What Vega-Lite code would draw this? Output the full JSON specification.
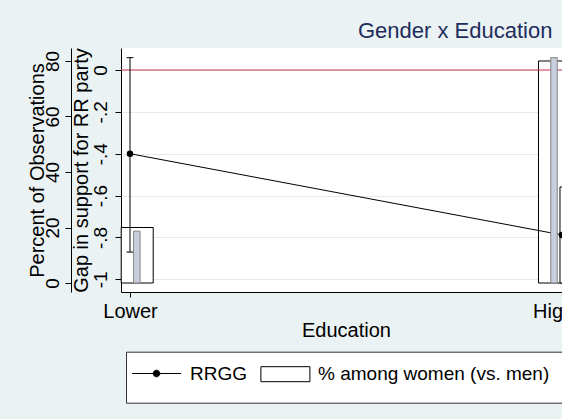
{
  "$schema": "https://vega.github.io/schema/vega-lite/v6.json",
  "width": 441,
  "height": 244,
  "autosize": {"type": "none"},
  "padding": {"left": 121, "top": 48, "right": 0, "bottom": 127},
  "background": "#eaf2f3",
  "config": {
    "view": {"fill": "white", "stroke": null},
    "font": "Liberation Sans",
    "axis": {"domainColor": "black", "tickColor": "black", "labelColor": "black", "titleColor": "black", "labelFont": "Liberation Sans", "titleFont": "Liberation Sans", "titleFontWeight": "normal", "grid": false, "domainWidth": 1, "tickWidth": 1}
  },
  "title": {"text": "Gender x Education", "anchor": "start", "frame": "group", "dx": 237, "offset": -12, "fontSize": 22, "fontWeight": "normal", "color": "#1e2d5c", "font": "Liberation Sans", "baseline": "alphabetic"},
  "datasets": {
    "bars": [
      {"series": "% among women (vs. men)", "education": "Lower", "xpos": 0.0167, "pct": 20},
      {"series": "% among women (vs. men)", "education": "Higher", "xpos": 0.9826, "pct": 80}
    ],
    "inner": [
      {"education": "Lower", "xpos": 0.0158, "pct": 18.7},
      {"education": "Higher", "xpos": 0.9815, "pct": 81.2}
    ],
    "extra": [
      {"series": "% among women (vs. men)", "education": "Higher (next)", "xpos": 1.0324, "pct": 34.6}
    ],
    "gap": [
      {"series": "RRGG", "education": "Lower", "xpos": 0, "gap": -0.4, "lo": -0.87, "hi": 0.059},
      {"series": "RRGG", "education": "Higher", "xpos": 1, "gap": -0.788}
    ],
    "ref": [{"gap": 0}]
  },
  "layer": [
    {
      "data": {"name": "bars"},
      "mark": {"type": "bar", "fill": "white", "stroke": "black", "width": 32, "strokeWidth": 1},
      "encoding": {
        "x": {"field": "xpos", "type": "quantitative", "scale": {"domain": [-0.02083, 1], "nice": false, "zero": false, "padding": 0},
          "axis": {"values": [0, 1], "labelExpr": "datum.value == 0 ? 'Lower' : 'Higher'", "labelFlush": false, "labelOverlap": false, "labelFontSize": 20, "labelPadding": 4, "tickSize": 5, "title": "Education", "titleFontSize": 20, "titlePadding": -1, "titleX": 225, "grid": false}},
        "y": {"field": "pct", "type": "quantitative", "scale": {"domain": [-3.24, 84.68], "nice": false, "zero": false, "padding": 0}, "axis": null},
        "y2": {"datum": 0}
      }
    },
    {
      "data": {"name": "ref"},
      "mark": {"type": "rule", "color": "#c9304f", "strokeWidth": 1.2},
      "encoding": {
        "y": {"field": "gap", "type": "quantitative", "scale": {"domain": [-1.0607, 0.105], "nice": false, "zero": false, "padding": 0},
          "axis": {"orient": "left", "values": [-1, -0.8, -0.6, -0.4, -0.2, 0], "labelExpr": "datum.value == 0 ? '0' : datum.value <= -0.99 ? '-1' : '-.' + round(-datum.value * 10)", "title": "Gap in support for RR party", "titleFontSize": 20, "labelFontSize": 19, "labelAngle": 270, "labelAlign": "center", "labelBaseline": "alphabetic", "labelPadding": 9, "tickSize": 6, "titlePadding": 0, "grid": true, "gridColor": "#e3ebee", "gridWidth": 1}}
      }
    },
    {
      "data": {"name": "gap"},
      "transform": [{"filter": "isValid(datum.lo)"}],
      "mark": {"type": "rule", "color": "black", "strokeWidth": 1},
      "encoding": {
        "x": {"field": "xpos", "type": "quantitative", "scale": {"domain": [-0.02083, 1], "nice": false, "zero": false, "padding": 0}},
        "y": {"field": "hi", "type": "quantitative", "scale": {"domain": [-1.0607, 0.105], "nice": false, "zero": false, "padding": 0}, "axis": null},
        "y2": {"field": "lo"}
      }
    },
    {
      "data": {"name": "gap"},
      "transform": [{"filter": "isValid(datum.lo)"}],
      "mark": {"type": "tick", "orient": "horizontal", "size": 7, "thickness": 1, "color": "black", "opacity": 1},
      "encoding": {
        "x": {"field": "xpos", "type": "quantitative", "scale": {"domain": [-0.02083, 1], "nice": false, "zero": false, "padding": 0}},
        "y": {"field": "hi", "type": "quantitative", "scale": {"domain": [-1.0607, 0.105], "nice": false, "zero": false, "padding": 0}, "axis": null}
      }
    },
    {
      "data": {"name": "gap"},
      "transform": [{"filter": "isValid(datum.lo)"}],
      "mark": {"type": "tick", "orient": "horizontal", "size": 7, "thickness": 1, "color": "black", "opacity": 1},
      "encoding": {
        "x": {"field": "xpos", "type": "quantitative", "scale": {"domain": [-0.02083, 1], "nice": false, "zero": false, "padding": 0}},
        "y": {"field": "lo", "type": "quantitative", "scale": {"domain": [-1.0607, 0.105], "nice": false, "zero": false, "padding": 0}, "axis": null}
      }
    },
    {
      "data": {"name": "gap"},
      "mark": {"type": "line", "strokeWidth": 1},
      "encoding": {
        "x": {"field": "xpos", "type": "quantitative", "scale": {"domain": [-0.02083, 1], "nice": false, "zero": false, "padding": 0}},
        "y": {"field": "gap", "type": "quantitative", "scale": {"domain": [-1.0607, 0.105], "nice": false, "zero": false, "padding": 0}, "axis": null},
        "stroke": {"field": "series", "type": "nominal", "scale": {"domain": ["RRGG"], "range": ["black"]},
          "legend": {"orient": "none", "legendX": 5, "legendY": 303.7, "direction": "horizontal", "title": null, "fillColor": "white", "strokeColor": "#333333", "padding": 11.3, "symbolSize": 400, "symbolOffset": 8.7, "symbolType": "M-2.45,0H2.45M-0.33,0A0.33,0.33,0,1,1,0.33,0A0.33,0.33,0,1,1,-0.33,0ZM0,-1L0,-1M0,1.55L0,1.55M45,0L45,0", "symbolFillColor": "black", "symbolStrokeColor": "black", "symbolStrokeWidth": 1, "symbolOpacity": 1, "labelFontSize": 19, "labelFont": "Liberation Sans", "labelColor": "black", "labelOffset": 23, "labelLimit": 400}}
      }
    },
    {
      "data": {"name": "inner"},
      "mark": {"type": "bar", "fill": "#c7cede", "stroke": "#858585", "strokeWidth": 1, "width": 6.5},
      "encoding": {
        "x": {"field": "xpos", "type": "quantitative", "scale": {"domain": [-0.02083, 1], "nice": false, "zero": false, "padding": 0}},
        "y": {"field": "pct", "type": "quantitative", "scale": {"domain": [-3.24, 84.68], "nice": false, "zero": false, "padding": 0},
          "axis": {"orient": "left", "offset": 50, "values": [0, 20, 40, 60, 80], "title": "Percent of Observations", "titleFontSize": 20, "labelFontSize": 19, "labelAngle": 270, "labelAlign": "center", "labelBaseline": "alphabetic", "labelPadding": 7, "tickSize": 6, "titlePadding": -4, "grid": false}},
        "y2": {"datum": 0}
      }
    },
    {
      "data": {"name": "extra"},
      "mark": {"type": "bar", "stroke": "black", "width": 32, "strokeWidth": 1},
      "encoding": {
        "x": {"field": "xpos", "type": "quantitative", "scale": {"domain": [-0.02083, 1], "nice": false, "zero": false, "padding": 0}},
        "y": {"field": "pct", "type": "quantitative", "scale": {"domain": [-3.24, 84.68], "nice": false, "zero": false, "padding": 0}, "axis": null},
        "y2": {"datum": 0},
        "fill": {"field": "series", "type": "nominal", "scale": {"domain": ["% among women (vs. men)"], "range": ["white"]},
          "legend": {"orient": "none", "legendX": 153.9, "legendY": 315.7, "direction": "horizontal", "title": null, "padding": 0, "symbolSize": 400, "symbolOffset": 0, "symbolType": "M-2.45,-0.75H2.45V0.75H-2.45Z", "symbolStrokeColor": "black", "symbolStrokeWidth": 1, "symbolOpacity": 1, "labelFontSize": 19, "labelFont": "Liberation Sans", "labelColor": "black", "labelOffset": 22.1, "labelLimit": 400}}
      }
    },
    {
      "data": {"name": "gap"},
      "mark": {"type": "point", "filled": true, "fill": "black", "size": 42, "opacity": 1},
      "encoding": {
        "x": {"field": "xpos", "type": "quantitative", "scale": {"domain": [-0.02083, 1], "nice": false, "zero": false, "padding": 0}},
        "y": {"field": "gap", "type": "quantitative", "scale": {"domain": [-1.0607, 0.105], "nice": false, "zero": false, "padding": 0}, "axis": null}
      }
    }
  ],
  "resolve": {"scale": {"y": "independent"}}
}
